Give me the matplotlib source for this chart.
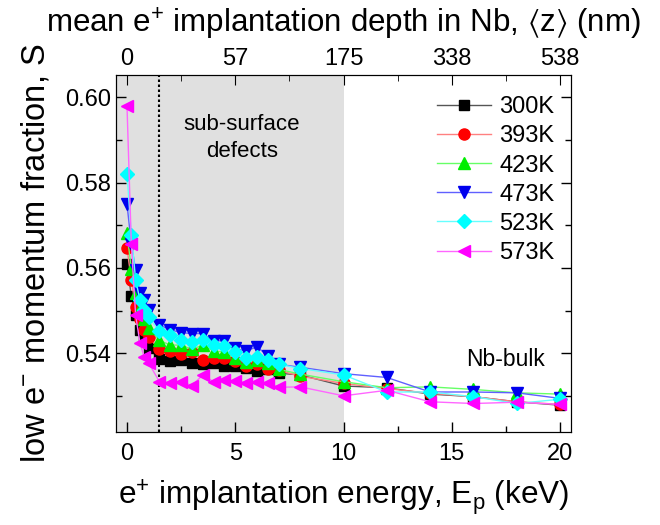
import numpy as np
import matplotlib
matplotlib.use("Agg")
import matplotlib.pyplot as plt
from matplotlib.ticker import MultipleLocator, FixedLocator, FixedFormatter

plt.rcParams["font.family"] = ["Liberation Sans", "DejaVu Sans"]
plt.rcParams["mathtext.fontset"] = "custom"
plt.rcParams["mathtext.rm"] = "Liberation Sans"
plt.rcParams["mathtext.it"] = "Liberation Sans:italic"
plt.rcParams["mathtext.fallback"] = "stixsans"

# positron implantation energy (keV)
energy = [0, 0.2, 0.4, 0.6, 0.8, 1.0, 1.5, 2, 2.5, 3, 3.5, 4, 4.5, 5, 5.5,
          6, 6.5, 7, 8, 10, 12, 14, 16, 18, 20]

# S parameter for each annealing temperature
s_300 = [0.5610, 0.5533, 0.5490, 0.5455, 0.5437, 0.5411, 0.5386, 0.5382,
         0.5385, 0.5377, 0.5374, 0.5378, 0.5371, 0.5369, 0.5365, 0.5359,
         0.5362, 0.5353, 0.5349, 0.5323, 0.5319, 0.5304, 0.5298, 0.5286,
         0.5278]
s_393 = [0.5647, 0.5571, 0.5508, 0.5480, 0.5454, 0.5437, 0.5409, 0.5405,
         0.5397, 0.5403, 0.5385, 0.5389, 0.5388, 0.5382, 0.5370, 0.5374,
         0.5364, 0.5360, 0.5346, 0.5329, 0.5317, 0.5306, 0.5298, 0.5286,
         0.5280]
s_423 = [0.5681, 0.5598, 0.5540, 0.5505, 0.5480, 0.5460, 0.5430, 0.5419,
         0.5419, 0.5409, 0.5419, 0.5405, 0.5403, 0.5389, 0.5380, 0.5384,
         0.5377, 0.5362, 0.5351, 0.5333, 0.5319, 0.5321, 0.5315, 0.5307,
         0.5304]
s_473 = [0.5749, 0.5657, 0.5594, 0.5540, 0.5524, 0.5501, 0.5466, 0.5455,
         0.5448, 0.5446, 0.5446, 0.5429, 0.5429, 0.5411, 0.5405, 0.5415,
         0.5394, 0.5374, 0.5367, 0.5352, 0.5343, 0.5309, 0.5309, 0.5307,
         0.5294]
s_523 = [0.5820, 0.5678, 0.5572, 0.5524, 0.5501, 0.5484, 0.5452, 0.5442,
         0.5432, 0.5426, 0.5432, 0.5420, 0.5416, 0.5403, 0.5388, 0.5391,
         0.5384, 0.5374, 0.5364, 0.5349, 0.5309, 0.5309, 0.5298, 0.5282,
         0.5292]
s_573 = [0.5980, 0.5657, 0.5489, 0.5424, 0.5390, 0.5377, 0.5333, 0.5331,
         0.5333, 0.5324, 0.5349, 0.5333, 0.5337, 0.5335, 0.5331, 0.5333,
         0.5331, 0.5320, 0.5321, 0.5300, 0.5313, 0.5286, 0.5282, 0.5285,
         0.5280]

labels = ["300K", "393K", "423K", "473K", "523K", "573K"]
series = [s_300, s_393, s_423, s_473, s_523, s_573]
marker_colors = ["black", "red", "#00ee00", "#0000ee", "#00ffff", "#ff00ff"]
line_colors = ["#555555", "#ff8080", "#66ff66", "#6060ff", "#66ffff", "#ff66ff"]
markers = ["s", "o", "^", "v", "D", "<"]
msizes = [7, 8, 8, 8, 7, 8]

# depth scale on the top axis
depth_ticks = [0, 5, 10, 15, 20]
depth_labels = ["0", "57", "175", "338", "538"]

fig = plt.figure(figsize=(6.6, 5.25), dpi=100)
ax = fig.add_axes([0.176, 0.177, 0.689, 0.680])

ax.axvspan(-0.5, 10, color="#e0e0e0", lw=0, zorder=0)
ax.axvline(1.5, color="black", ls=(0, (1.2, 1.2)), lw=1.5, zorder=1)

for s, lab, mc, lc, m, ms in zip(series, labels, marker_colors, line_colors,
                                 markers, msizes):
    ax.plot(energy, s, color=lc, lw=1.0, marker=m, ms=ms,
            markerfacecolor=mc, markeredgecolor=mc, label=lab, zorder=3)

ax.set_xlim(-0.5, 20.5)
ax.set_ylim(0.5215, 0.6052)
ax.xaxis.set_major_locator(MultipleLocator(5))
ax.xaxis.set_minor_locator(MultipleLocator(2.5))
ax.yaxis.set_major_locator(MultipleLocator(0.02))
ax.yaxis.set_minor_locator(MultipleLocator(0.01))
ax.yaxis.set_major_formatter(plt.FormatStrFormatter("%.2f"))
ax.tick_params(which="both", direction="in", right=True, labelsize=17)
ax.tick_params(which="major", length=7, width=1)
ax.tick_params(which="minor", length=4, width=1)
ax.tick_params(axis="x", which="both", top=False)
ax.tick_params(axis="x", pad=8)

ax.set_xlabel("e$^{+}$ implantation energy, E$_{\\mathrm{p}}$ (keV)",
              fontsize=22.7, labelpad=9)
ax.set_ylabel("low e$^{-}$ momentum fraction, S", fontsize=23.5, labelpad=10)

top = ax.twiny()
top.set_xlim(ax.get_xlim())
top.xaxis.set_major_locator(FixedLocator(depth_ticks))
top.xaxis.set_major_formatter(FixedFormatter(depth_labels))
top.xaxis.set_minor_locator(MultipleLocator(2.5))
top.tick_params(which="both", direction="in", labelsize=17)
top.tick_params(which="major", length=7)
top.tick_params(which="minor", length=4)
top.set_xlabel("mean e$^{+}$ implantation depth in Nb, $\\langle$z$\\rangle$ (nm)",
               fontsize=22.5, labelpad=11)

ax.text(5.3, 0.5905, "sub-surface\ndefects", ha="center", va="center",
        fontsize=16, linespacing=1.35)
ax.text(17.5, 0.5384, "Nb-bulk", ha="center", va="center", fontsize=16.5)

leg = ax.legend(loc="upper right", bbox_to_anchor=(0.995, 0.98),
                frameon=False, fontsize=17, handlelength=2.3,
                handletextpad=0.35, labelspacing=0.3, borderaxespad=0.2)

fig.savefig("out.png", dpi=100)
